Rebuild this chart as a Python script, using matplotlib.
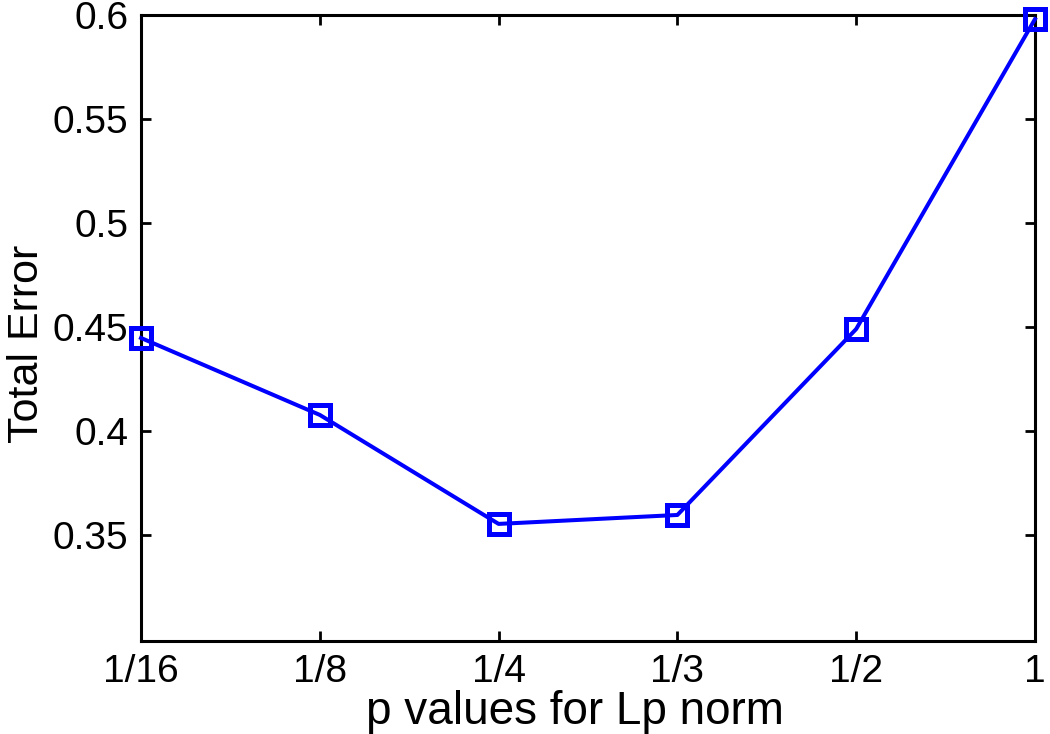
import matplotlib.pyplot as plt

# data
p_labels = ["1/16", "1/8", "1/4", "1/3", "1/2", "1"]
total_error = [0.4447, 0.4077, 0.3553, 0.3596, 0.449, 0.598]
y_ticks = [0.35, 0.4, 0.45, 0.5, 0.55, 0.6]
y_tick_labels = ["0.35", "0.4", "0.45", "0.5", "0.55", "0.6"]

plt.rcParams['font.family'] = ['Liberation Sans', 'DejaVu Sans']

fig = plt.figure(figsize=(10.5, 7.34), dpi=100)
ax = fig.add_axes([0.1343, 0.1267, 0.8514, 0.8529])

x = list(range(1, len(p_labels) + 1))
ax.plot(x, total_error, color="#0000ff", lw=2.9, marker="s", markersize=14,
        markerfacecolor="none", markeredgecolor="#0000ff", markeredgewidth=3.6,
        clip_on=False, zorder=3)

ax.set_xlim(1, len(p_labels))
ax.set_ylim(0.299, 0.6)
ax.set_xticks(x)
ax.set_xticklabels(p_labels)
ax.set_yticks(y_ticks)
ax.set_yticklabels(y_tick_labels)

for s in ax.spines.values():
    s.set_linewidth(2.2)
ax.tick_params(direction="in", length=7, width=2, labelsize=28, pad=9,
               top=True, right=True)

ax.set_xlabel("p values for Lp norm", fontsize=33, labelpad=0)
ax.set_ylabel("Total Error", fontsize=31, labelpad=4)
# labels sit a little off-centre in the original
ax.xaxis.label.set_x(0.4855)
ax.yaxis.label.set_y(0.474)

fig.savefig("out.png", dpi=100)
